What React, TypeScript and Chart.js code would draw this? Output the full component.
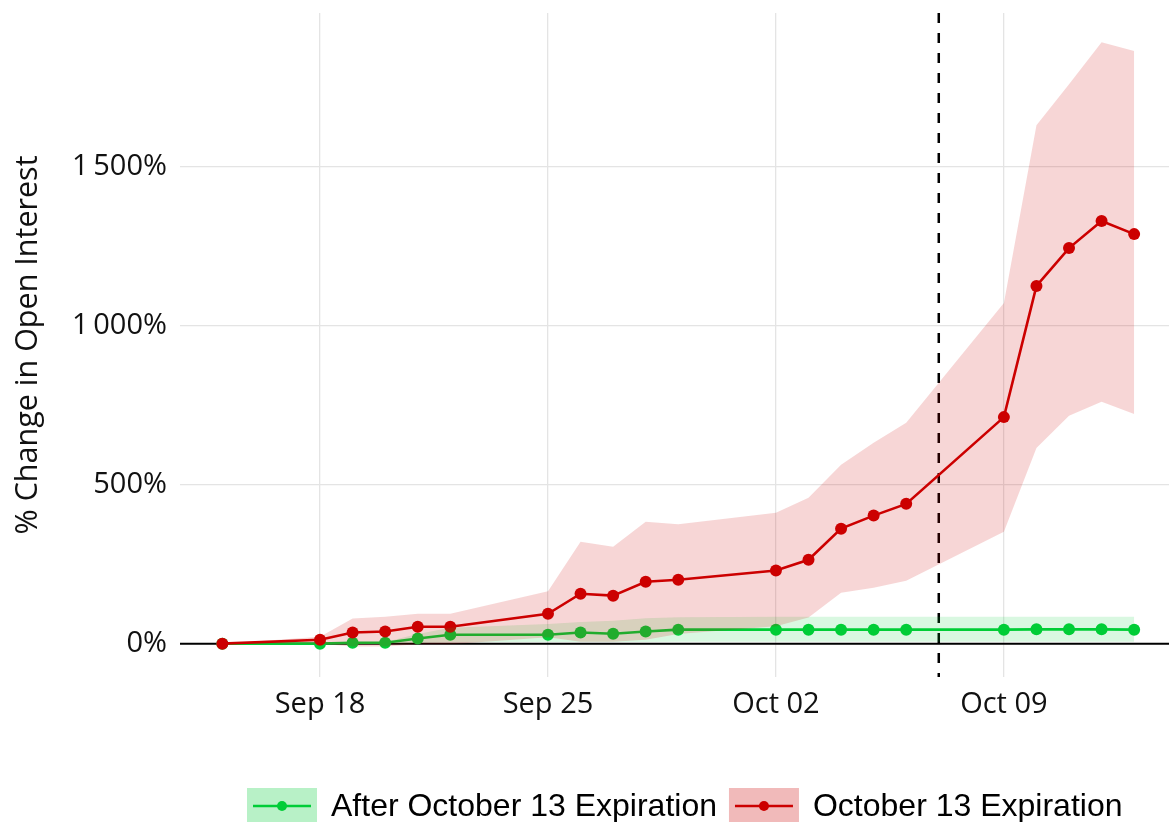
import React, { useEffect, useRef } from "react";
import { Chart, registerables } from "chart.js";

Chart.register(...registerables);

const dates = [
  "2023-09-15", "2023-09-18", "2023-09-19", "2023-09-20", "2023-09-21", "2023-09-22",
  "2023-09-25", "2023-09-26", "2023-09-27", "2023-09-28", "2023-09-29",
  "2023-10-02", "2023-10-03", "2023-10-04", "2023-10-05", "2023-10-06",
  "2023-10-09", "2023-10-10", "2023-10-11", "2023-10-12", "2023-10-13",
];

const oct13Mean = [0, 12, 35, 38, 53, 53, 94, 157, 151, 195, 201, 230, 264, 362, 403, 440, 713, 1126, 1245, 1330, 1289];
const oct13Upper = [0, 22, 79, 85, 94, 94, 165, 321, 305, 384, 376, 412, 459, 563, 632, 695, 1072, 1632, 1761, 1893, 1865];
const oct13Lower = [0, 0, -9, -9, -2, -2, 20, 6, 6, 12, 30, 55, 82, 160, 176, 198, 352, 616, 717, 761, 723];

const afterMean = [0, 0, 3, 3, 16, 28, 28, 35, 31, 38, 44, 44, 44, 44, 44, 44, 44, 45, 45, 45, 44];
const afterUpper = [0, 0, 5, 5, 30, 50, 62, 68, 72, 80, 83, 85, 85, 85, 85, 85, 85, 85, 85, 85, 85];
const afterLower = [0, 0, 0, 0, 2, 4, 5, 5, 5, 5, 6, 6, 6, 6, 6, 6, 6, 6, 6, 6, 6];

const xTickDates = ["2023-09-18", "2023-09-25", "2023-10-02", "2023-10-09"];
const xTickLabels = ["Sep 18", "Sep 25", "Oct 02", "Oct 09"];
const yTickValues = [0, 500, 1000, 1500];
const yTickLabels = ["0%", "500%", "1\u2009000%", "1\u2009500%"];
const vlineDate = "2023-10-07";

const seriesNames = ["After October 13 Expiration", "October 13 Expiration"];
const yTitle = "% Change in Open Interest";

const RED = "rgb(204,0,0)";
const GREEN = "rgb(0,205,55)";
const RED_BAND = "rgba(204,0,0,0.16)";
const GREEN_BAND = "rgba(0,205,55,0.15)";

const base = Date.UTC(2023, 8, 15);
const dayOf = (s: string) => {
  const [y, m, d] = s.split("-").map(Number);
  return Math.round((Date.UTC(y, m - 1, d) - base) / 86400000);
};
const xs = dates.map(dayOf);
const pts = (vals: number[]) => vals.map((v, i) => ({ x: xs[i], y: v }));

export default function App() {
  const ref = useRef<HTMLCanvasElement | null>(null);

  useEffect(() => {
    if (!ref.current) return;
    const tickFont = "'Open Sans', 'Noto Sans', sans-serif";

    const overlay = {
      id: "overlay",
      beforeDatasetsDraw(chart: any) {
        const { ctx, chartArea, scales } = chart;
        ctx.save();
        const y0 = scales.y.getPixelForValue(0);
        ctx.strokeStyle = "#000";
        ctx.lineWidth = 2;
        ctx.beginPath();
        ctx.moveTo(chartArea.left, y0);
        ctx.lineTo(chartArea.right, y0);
        ctx.stroke();
        const xv = scales.x.getPixelForValue(dayOf(vlineDate));
        ctx.setLineDash([10, 10]);
        ctx.lineWidth = 2.5;
        ctx.beginPath();
        ctx.moveTo(xv, chartArea.top);
        ctx.lineTo(xv, chartArea.bottom);
        ctx.stroke();
        ctx.restore();
      },
      afterDraw(chart: any) {
        const { ctx, chartArea } = chart;
        ctx.save();
        ctx.fillStyle = "#111";
        ctx.font = `30.5px ${tickFont}`;
        ctx.textAlign = "center";
        ctx.textBaseline = "middle";
        ctx.translate(28, (chartArea.top + chartArea.bottom) / 2);
        ctx.rotate(-Math.PI / 2);
        ctx.fillText(yTitle, 0, 0);
        ctx.restore();

        ctx.save();
        ctx.font = "32px 'Liberation Sans', Arial, sans-serif";
        ctx.textBaseline = "middle";
        ctx.textAlign = "left";
        const items = [
          { name: seriesNames[0], color: GREEN, box: "rgba(0,205,55,0.28)" },
          { name: seriesNames[1], color: RED, box: "rgba(204,0,0,0.27)" },
        ];
        let x = 247;
        const boxTop = 788;
        const cy = 806;
        items.forEach((it) => {
          ctx.fillStyle = it.box;
          ctx.fillRect(x, boxTop, 70, 40);
          ctx.strokeStyle = it.color;
          ctx.lineWidth = 2.5;
          ctx.beginPath();
          ctx.moveTo(x + 6, cy);
          ctx.lineTo(x + 64, cy);
          ctx.stroke();
          ctx.fillStyle = it.color;
          ctx.beginPath();
          ctx.arc(x + 35, cy, 5, 0, Math.PI * 2);
          ctx.fill();
          ctx.fillStyle = "#000";
          ctx.fillText(it.name, x + 84, cy + 1);
          x += 84 + ctx.measureText(it.name).width + 12;
        });
        ctx.restore();
      },
    };

    const band = (data: number[], color: string, fill: any) => ({
      data: pts(data),
      borderWidth: 0,
      borderColor: "rgba(0,0,0,0)",
      backgroundColor: color,
      pointRadius: 0,
      pointHoverRadius: 0,
      fill,
      tension: 0,
    });

    const line = (label: string, data: number[], color: string) => ({
      label,
      data: pts(data),
      borderColor: color,
      backgroundColor: color,
      borderWidth: 2.6,
      pointRadius: 6,
      pointBorderWidth: 0,
      fill: false,
      tension: 0,
    });

    const chart = new Chart(ref.current, {
      type: "line",
      data: {
        datasets: [
          band(oct13Upper, RED_BAND, "+1"),
          band(oct13Lower, RED_BAND, false),
          band(afterUpper, GREEN_BAND, "+1"),
          band(afterLower, GREEN_BAND, false),
          line(seriesNames[1], oct13Mean, RED),
          line(seriesNames[0], afterMean, GREEN),
        ] as any,
      },
      options: {
        animation: false,
        responsive: false,
        maintainAspectRatio: false,
        events: [],
        layout: { autoPadding: false, padding: { top: 13, right: 0, left: 0, bottom: 0 } },
        plugins: { legend: { display: false }, tooltip: { enabled: false } },
        scales: {
          x: {
            type: "linear",
            min: -1.3,
            max: 29.07,
            afterBuildTicks: (scale: any) => {
              scale.ticks = xTickDates.map((d) => ({ value: dayOf(d) }));
            },
            afterFit: (scale: any) => {
              scale.height = 145;
              scale.paddingLeft = 0;
              scale.paddingRight = 0;
            },
            ticks: {
              autoSkip: false,
              maxRotation: 0,
              padding: 10,
              color: "#111",
              font: { family: tickFont, size: 29 },
              callback: (v: any) => {
                const i = xTickDates.findIndex((d) => dayOf(d) === v);
                return i >= 0 ? xTickLabels[i] : "";
              },
            },
            grid: { color: "#e4e4e4", lineWidth: 1.3, drawTicks: false },
            border: { display: false },
          },
          y: {
            type: "linear",
            min: -105,
            max: 1985,
            afterBuildTicks: (scale: any) => {
              scale.ticks = yTickValues.map((v) => ({ value: v }));
            },
            afterFit: (scale: any) => {
              scale.width = 180;
              scale.paddingTop = 0;
              scale.paddingBottom = 0;
            },
            ticks: {
              autoSkip: false,
              padding: 13,
              color: "#111",
              font: { family: tickFont, size: 29 },
              callback: (v: any) => {
                const i = yTickValues.indexOf(v);
                return i >= 0 ? yTickLabels[i] : "";
              },
            },
            grid: { color: "#e4e4e4", lineWidth: 1.3, drawTicks: false },
            border: { display: false },
          },
        },
      } as any,
      plugins: [overlay],
    });

    return () => chart.destroy();
  }, []);

  return (
    <div style={{ position: "fixed", left: 0, top: 0, width: 1169, height: 822, background: "#fff" }}>
      <canvas ref={ref} width={1169} height={822} style={{ width: 1169, height: 822, display: "block" }} />
    </div>
  );
}
